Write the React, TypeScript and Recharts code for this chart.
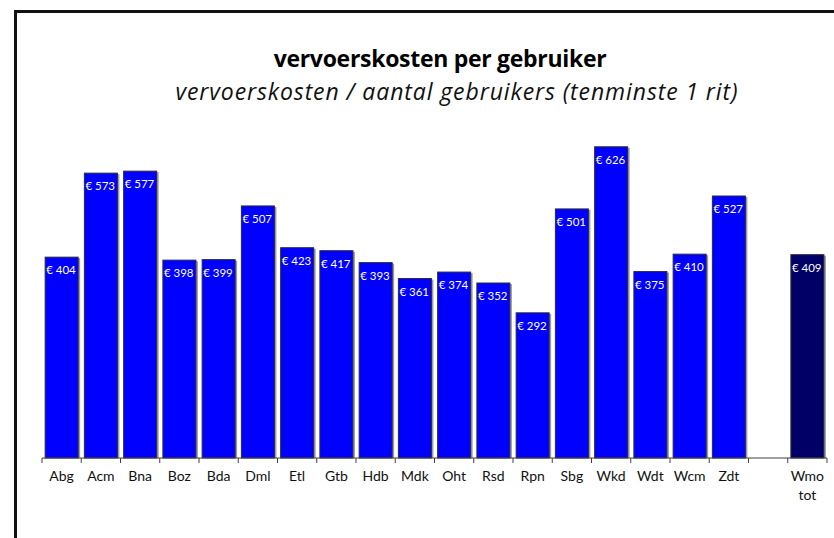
import { BarChart, Bar, XAxis, YAxis, Cell, LabelList } from "recharts";

// one empty slot between the municipalities and the overall Wmo bar
const categories = [
  "Abg", "Acm", "Bna", "Boz", "Bda", "Dml", "Etl", "Gtb", "Hdb", "Mdk",
  "Oht", "Rsd", "Rpn", "Sbg", "Wkd", "Wdt", "Wcm", "Zdt", "", "Wmo tot",
];
const costs = [
  404, 573, 577, 398, 399, 507, 423, 417, 393, 361,
  374, 352, 292, 501, 626, 375, 410, 527, null, 409,
];

const data = categories.map((name, i) => ({ name, cost: costs[i] }));
const lastIndex = categories.length - 1;

const W = 834;
const H = 538;
const margin = { top: 110, right: 7, bottom: 50, left: 42 };
const slot = (W - margin.left - margin.right) / categories.length;
const font = "Lato, 'Open Sans', sans-serif";
const titleFont = "'Open Sans', sans-serif";

function Tick(props: any) {
  const { x, y, payload, index } = props;
  const lines = String(payload.value).split(" ");
  const left = x - slot / 2;
  return (
    <g>
      <line x1={left} y1={y} x2={left} y2={y + 5} stroke="#404040" />
      {index === lastIndex && (
        <line x1={left + slot} y1={y} x2={left + slot} y2={y + 5} stroke="#404040" />
      )}
      <text x={x} y={y + 23} textAnchor="middle" fontSize={14} fill="#111" fontFamily={font}>
        {lines.map((l, i) => (
          <tspan key={i} x={x} dy={i ? 19 : 0}>
            {l}
          </tspan>
        ))}
      </text>
    </g>
  );
}

function BarShape(props: any) {
  const { x, y, width, height, fill } = props;
  if (!height) return null;
  return (
    <g>
      <rect x={x + 2} y={y + 1} width={width} height={height - 1} fill="#9a9a9a" />
      <rect x={x} y={y} width={width} height={height} fill={fill} stroke="#2a2a40" strokeWidth={1} />
    </g>
  );
}

function ValueLabel(props: any) {
  const { x, y, value } = props;
  if (value == null) return null;
  return (
    <text x={x + 1} y={y + 17} fontSize={11.5} fill="#fff" fontFamily={font}>
      € {value}
    </text>
  );
}

export default function App() {
  return (
    <div style={{ position: "absolute", left: 0, top: 0, width: W, height: H, overflow: "hidden", background: "#fff" }}>
      <div
        style={{
          position: "absolute",
          left: 14,
          top: 10,
          width: W + 20,
          height: H + 20,
          border: "3px solid #111",
        }}
      />
      <div
        style={{
          position: "absolute",
          left: 0,
          width: W,
          top: 42,
          textAlign: "center",
          paddingLeft: 46,
          boxSizing: "border-box",
          fontFamily: titleFont,
          fontWeight: 700,
          fontSize: 23,
          letterSpacing: -0.3,
          color: "#000",
        }}
      >
        vervoerskosten per gebruiker
      </div>
      <div
        style={{
          position: "absolute",
          left: 0,
          width: W,
          top: 75,
          textAlign: "center",
          paddingLeft: 80,
          boxSizing: "border-box",
          fontFamily: titleFont,
          fontStyle: "italic",
          fontSize: 23,
          letterSpacing: 0.9,
          color: "#111",
        }}
      >
        vervoerskosten / aantal gebruikers (tenminste 1 rit)
      </div>
      <div style={{ position: "absolute", left: 0, top: 0 }}>
        <BarChart width={W} height={H} data={data} margin={margin} barCategoryGap="8%">
          <YAxis hide domain={[0, 700]} />
          <XAxis
            dataKey="name"
            interval={0}
            tickLine={false}
            tickSize={0}
            tickMargin={0}
            height={30}
            stroke="#404040"
            tick={<Tick />}
          />
          <Bar dataKey="cost" isAnimationActive={false} shape={<BarShape />}>
            {data.map((d, i) => (
              <Cell key={d.name + i} fill={i === lastIndex ? "#000066" : "#0000ff"} />
            ))}
            <LabelList dataKey="cost" content={<ValueLabel />} />
          </Bar>
        </BarChart>
      </div>
    </div>
  );
}
